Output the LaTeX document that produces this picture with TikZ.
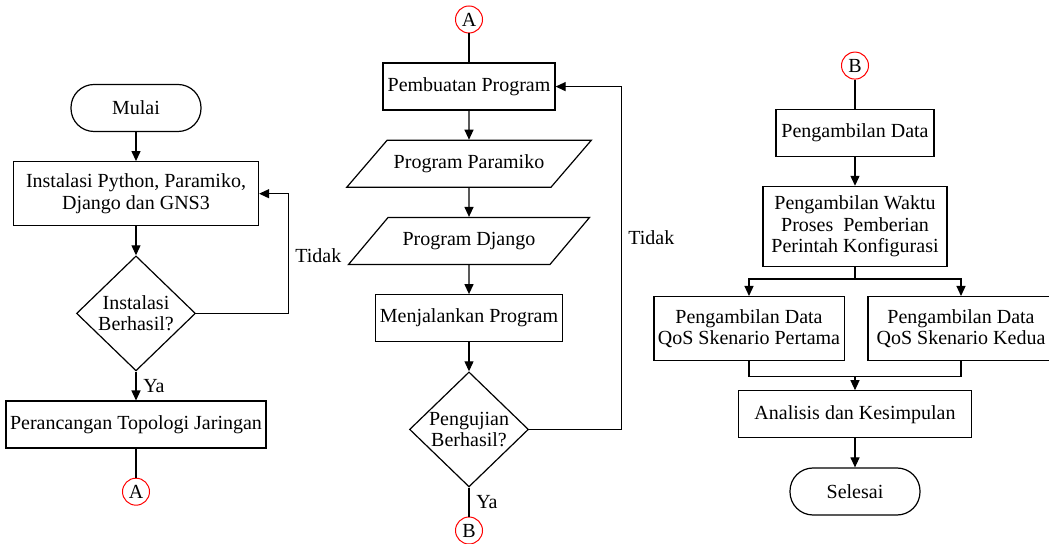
\documentclass[tikz,border=0pt]{standalone}
\usepackage{fontspec}
\setmainfont{Liberation Serif}
\usetikzlibrary{arrows.meta,positioning,shapes.geometric}
\tikzset{
    %Define standard arrow tip
    >={Triangle[width=4.5pt,length=5pt]},
    %Define style for boxes
    proses/.style={
           rectangle,
           draw=black,
           minimum height=23.5pt,
           inner sep=2pt,
           align=center},
    terminal/.style={
           rectangle,
           rounded corners=11.5pt,
           draw=black,
           minimum width=65pt,
           minimum height=23.5pt,
           align=center},
    keputusan/.style={
           diamond,
           draw=black,
           inner sep=0pt,
           minimum width=59.5pt,
           minimum height=57.5pt,
           align=center},
    data/.style={
           trapezium,
           trapezium left angle=38,
           trapezium right angle=142,
           trapezium stretches body,
           draw=black,
           minimum width=120.5pt,
           minimum height=23.5pt,
           align=center},
    konektor/.style={
           circle,
           draw=red, line width=0.5pt,
           inner sep=0pt,
           minimum size=13.5pt},
    % Define line style
    garis/.style={
           line width=0.6pt}
}

\begin{document}
\begin{tikzpicture}[node distance=14.5pt, garis,
  font=\fontsize{10}{10.6}\selectfont]
 \path[use as bounding box, fill=white] (0,0) rectangle (524.5pt,-272pt);

 %kolom 1
 \node[terminal] (mulai) at (68pt,-54pt) {Mulai};
 \node[proses, minimum width=122.5pt, minimum height=32pt, below=of mulai] (instalasi) {Instalasi Python, Paramiko,\\Django dan GNS3};
 \node[keputusan, below=of instalasi] (cek1) {Instalasi\\Berhasil?};
 \node[proses, minimum width=127.5pt, below=of cek1] (topologi) {Perancangan Topologi Jaringan};
 \node[konektor, below=of topologi] (a1) {A};

 %kolom 2
 \node[konektor] (a2) at (234.5pt,-9.75pt) {A};
 \node[proses, minimum width=86pt, below=of a2] (buat) {Pembuatan Program};
 \node[data, below=of buat] (paramiko) {Program Paramiko};
 \node[data, below=of paramiko] (django) {Program Django};
 \node[proses, minimum width=93pt, below=of django] (jalan) {Menjalankan Program};
 \node[keputusan, below=of jalan] (cek2) {Pengujian\\Berhasil?};
 \node[konektor, below=of cek2] (b1) {B};

 %kolom 3
 \node[konektor] (b2) at (427.5pt,-32.8pt) {B};
 \node[proses, minimum width=79pt, below=of b2] (ambil) {Pengambilan Data};
 \node[proses, minimum width=92pt, minimum height=40pt, below=of ambil] (waktu) {Pengambilan Waktu\\Proses~ Pemberian\\Perintah Konfigurasi};
 \coordinate[below=6pt of waktu.south] (cabang);
 \node[proses, minimum width=92.5pt, minimum height=32pt, below=of waktu, xshift=-53pt] (qos1) {Pengambilan Data\\QoS Skenario Pertama};
 \node[proses, minimum width=93pt, minimum height=32pt, below=of waktu, xshift=53pt] (qos2) {Pengambilan Data\\QoS Skenario Kedua};
 \coordinate (tengah) at (waktu |- qos1.south);
 \node[proses, minimum width=116.5pt, below=of tengah] (analisis) {Analisis dan Kesimpulan};
 \coordinate[above=7pt of analisis.north] (gabung);
 \node[terminal, below=of analisis] (selesai) {Selesai};

 %garis
 \path[->]
    (mulai) edge (instalasi)
    (instalasi) edge (cek1)
    (cek1) edge node[right] {Ya} (topologi)
    (buat) edge (paramiko)
    (paramiko) edge (django)
    (django) edge (jalan)
    (jalan) edge (cek2)
    (ambil) edge (waktu)
    (gabung) edge (analisis)
    (analisis) edge (selesai);
 \path
    (topologi) edge (a1)
    (a2) edge (buat)
    (cek2) edge node[right] {Ya} (b1)
    (b2) edge (ambil)
    (waktu) edge (cabang);

 \draw[->] (cek1.east) -- ++(46pt,0) |- node[right, pos=0.24] {Tidak} (instalasi.east);
 \draw[->] (cek2.east) -- ++(46pt,0) |- node[right, pos=0.28] {Tidak} (buat.east);
 \draw[->] (cabang) -| (qos1);
 \draw[->] (cabang) -| (qos2);
 \draw (qos1) |- (gabung) -| (qos2);

\end{tikzpicture}
\end{document}
